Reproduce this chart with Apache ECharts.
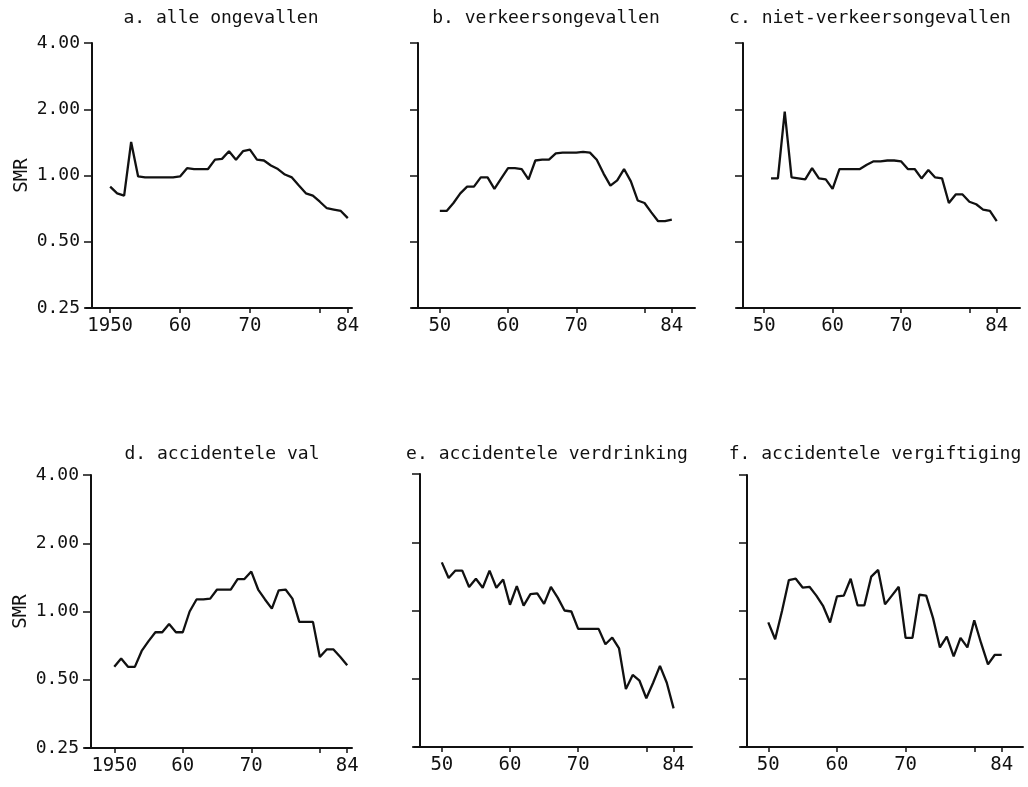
<!DOCTYPE html>
<html>
<head>
<meta charset="utf-8">
<title>SMR ongevallen 1950-1984</title>
<script src="https://cdn.jsdelivr.net/npm/echarts@6/dist/echarts.min.js"></script>
<style>
    html, body { margin: 0; padding: 0; background: #fff; }
    #chart { width: 1028px; height: 787px; }
</style>
</head>
<body>
<div id="chart"></div>
<script>
// jaren (x-as)
var years = [1950, 1951, 1952, 1953, 1954, 1955, 1956, 1957, 1958, 1959,
    1960, 1961, 1962, 1963, 1964, 1965, 1966, 1967, 1968, 1969,
    1970, 1971, 1972, 1973, 1974, 1975, 1976, 1977, 1978, 1979,
    1980, 1981, 1982, 1983, 1984];
var xTickYears = [1950, 1960, 1970, 1980, 1984];
var xLabelYears = [1950, 1960, 1970, 1984];

var alleOngevallen = [0.89, 0.83, 0.81, 1.42, 0.99, 0.98, 0.98, 0.98, 0.98, 0.98,
    0.99, 1.08, 1.07, 1.07, 1.07, 1.18, 1.19, 1.29, 1.18, 1.29,
    1.31, 1.18, 1.17, 1.11, 1.07, 1.01, 0.98, 0.90, 0.83, 0.81,
    0.76, 0.71, 0.70, 0.69, 0.64];
var verkeersongevallen = [0.69, 0.69, 0.75, 0.83, 0.89, 0.89, 0.98, 0.98, 0.87, 0.97,
    1.08, 1.08, 1.07, 0.96, 1.17, 1.18, 1.18, 1.26, 1.27, 1.27,
    1.27, 1.28, 1.27, 1.18, 1.02, 0.90, 0.95, 1.07, 0.94, 0.77,
    0.75, 0.68, 0.62, 0.62, 0.63];
var nietVerkeersongevallen = [null, 0.97, 0.97, 1.95, 0.98, 0.97, 0.96, 1.08, 0.97, 0.96,
    0.87, 1.07, 1.07, 1.07, 1.07, 1.12, 1.16, 1.16, 1.17, 1.17,
    1.16, 1.07, 1.07, 0.97, 1.06, 0.98, 0.97, 0.75, 0.82, 0.82,
    0.76, 0.74, 0.70, 0.69, 0.62];
var accidenteleVal = [0.57, 0.62, 0.57, 0.57, 0.67, 0.74, 0.81, 0.81, 0.88, 0.81,
    0.81, 1.00, 1.13, 1.13, 1.14, 1.25, 1.25, 1.25, 1.39, 1.39,
    1.50, 1.25, 1.13, 1.03, 1.24, 1.25, 1.14, 0.90, 0.90, 0.90,
    0.63, 0.68, 0.68, 0.63, 0.58];
var accidenteleVerdrinking = [1.63, 1.39, 1.50, 1.50, 1.27, 1.38, 1.26, 1.50, 1.26, 1.37,
    1.06, 1.28, 1.05, 1.18, 1.19, 1.07, 1.27, 1.14, 1.00, 0.99,
    0.83, 0.83, 0.83, 0.83, 0.71, 0.76, 0.68, 0.45, 0.52, 0.49,
    0.41, 0.48, 0.57, 0.48, 0.37];
var accidenteleVergiftiging = [0.89, 0.75, 1.00, 1.37, 1.39, 1.27, 1.28, 1.17, 1.05, 0.89,
    1.16, 1.17, 1.39, 1.06, 1.06, 1.42, 1.52, 1.07, 1.17, 1.28,
    0.76, 0.76, 1.18, 1.17, 0.93, 0.69, 0.77, 0.63, 0.76, 0.69,
    0.91, 0.72, 0.58, 0.64, 0.64];

var FONT = '"DejaVu Sans Mono", monospace';
var INK = '#111';
var OVERHANG = 6; // x-as steekt iets links uit voorbij de y-as

// opmaak per paneel (left = plaats van de y-as)
var panels = [
    {title: 'a. alle ongevallen', values: alleOngevallen, full: true,
        left: 92, top: 43, width: 260, height: 265, min: 1947.4, max: 1984.6, tx: 221, ty: 9},
    {title: 'b. verkeersongevallen', values: verkeersongevallen, full: false,
        left: 418, top: 43, width: 277, height: 265, min: 1946.8, max: 1987.4, tx: 546, ty: 9},
    {title: 'c. niet-verkeersongevallen', values: nietVerkeersongevallen, full: false,
        left: 743, top: 43, width: 277, height: 265, min: 1946.9, max: 1987.4, tx: 870, ty: 9},
    {title: 'd. accidentele val', values: accidenteleVal, full: true,
        left: 91, top: 475, width: 261, height: 273, min: 1946.6, max: 1984.7, tx: 222, ty: 445},
    {title: 'e. accidentele verdrinking', values: accidenteleVerdrinking, full: false,
        left: 420, top: 474, width: 272, height: 273, min: 1946.8, max: 1986.7, tx: 547, ty: 445},
    {title: 'f. accidentele vergiftiging', values: accidenteleVergiftiging, full: false,
        left: 747, top: 475, width: 276, height: 272, min: 1946.9, max: 1987.1, tx: 875, ty: 445}
];

var chart = echarts.init(document.getElementById('chart'));
var option = {
    backgroundColor: '#fff',
    animation: false,
    grid: [],
    xAxis: [],
    yAxis: [],
    series: [],
    graphic: []
};

panels.forEach(function (p, i) {
    var pxPerYear = p.width / (p.max - p.min);
    option.grid.push({left: p.left - OVERHANG, top: p.top, width: p.width + OVERHANG, height: p.height});

    option.xAxis.push({
        type: 'value',
        gridIndex: i,
        min: p.min - OVERHANG / pxPerYear,
        max: p.max,
        axisLine: {lineStyle: {color: INK, width: 2}},
        axisTick: {customValues: xTickYears, length: 5, lineStyle: {color: INK, width: 1.5}},
        axisLabel: {
            customValues: xLabelYears,
            margin: 9,
            color: INK,
            fontFamily: FONT,
            fontSize: 19,
            formatter: function (v) {
                if (v === 1950 && p.full) return '1950';
                return String(v).slice(2);
            }
        },
        splitLine: {show: false}
    });

    option.yAxis.push({
        type: 'log',
        logBase: 2,
        gridIndex: i,
        offset: -OVERHANG,
        min: 0.25,
        max: 4,
        name: p.full ? 'SMR' : '',
        nameLocation: 'middle',
        nameRotate: 90,
        nameGap: 60,
        nameTextStyle: {color: INK, fontFamily: FONT, fontSize: 19},
        axisLine: {show: true, lineStyle: {color: INK, width: 2}},
        axisTick: {show: true, length: 8, lineStyle: {color: INK, width: 1.5}},
        axisLabel: {
            show: p.full,
            margin: 12,
            color: INK,
            fontFamily: FONT,
            fontSize: 18,
            formatter: function (v) { return v.toFixed(2); }
        },
        splitLine: {show: false}
    });

    var data = [];
    years.forEach(function (y, k) {
        if (p.values[k] != null) data.push([y, p.values[k]]);
    });
    option.series.push({
        type: 'line',
        xAxisIndex: i,
        yAxisIndex: i,
        data: data,
        showSymbol: false,
        silent: true,
        lineStyle: {color: INK, width: 2.3}
    });

    // paneeltitel
    option.graphic.push({
        type: 'text',
        x: p.tx,
        y: p.ty,
        style: {
            text: p.title,
            fill: INK,
            font: '18px ' + FONT,
            textAlign: 'center',
            textVerticalAlign: 'top'
        }
    });
});

chart.setOption(option);
</script>
</body>
</html>
